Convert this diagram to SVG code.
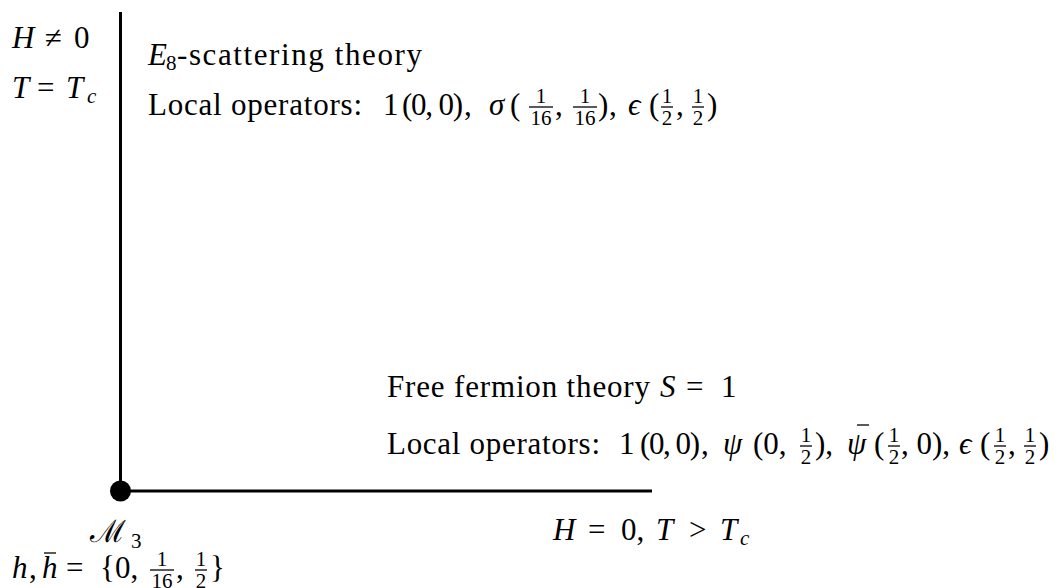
<svg xmlns="http://www.w3.org/2000/svg" width="1057" height="588" viewBox="0 0 1057 588">
<style>
.t{font-family:"Liberation Serif","Times New Roman",serif;font-size:31px;fill:#000}
.i{font-style:italic}
.s{font-size:21px}
.m{text-anchor:middle}
.fb{stroke:#000;stroke-width:1.3}
.ax{stroke:#000;stroke-width:3;fill:none}
</style>
<rect width="1057" height="588" fill="#fff"/>
<g id="connectors">
<line class="ax" x1="120.5" y1="12" x2="120.5" y2="491"/>
<line class="ax" x1="120.5" y1="491" x2="652" y2="491"/>
</g>
<g id="node-M3">
<circle cx="120.5" cy="491" r="10.5" fill="#000"/>
<text class="t" x="90" y="542" font-family="DejaVu Serif" font-size="33">ℳ</text>
<text class="t s" x="131" y="548">3</text>
<text class="t i" x="12" y="578">h</text>
<text class="t" x="29" y="578">,</text>
<text class="t i" x="42" y="578">h</text>
<line class="fb" x1="44" y1="553" x2="56" y2="553"/>
<text class="t" x="66" y="578">=</text>
<text class="t" x="100" y="578">{0,</text>
<text class="t s m" x="162" y="566">1</text>
<line class="fb" x1="150" y1="570" x2="174" y2="570"/>
<text class="t s m" x="162" y="588">16</text>
<text class="t" x="176" y="578">,</text>
<text class="t s m" x="201" y="566">1</text>
<line class="fb" x1="195" y1="570" x2="207" y2="570"/>
<text class="t s m" x="201" y="588">2</text>
<text class="t" x="210" y="578">}</text>
</g>
<g id="node-vertical-label">
<text class="t i" x="12" y="48">H</text>
<text class="t" x="45" y="48">≠</text>
<text class="t" x="74" y="48">0</text>
<text class="t i" x="12" y="98">T</text>
<text class="t" x="37" y="98">=</text>
<text class="t i" x="66" y="98">T</text>
<text class="t i s" x="87" y="103">c</text>
</g>
<g id="node-E8">
<text class="t i" x="148" y="65">E</text>
<text class="t s" x="166" y="70">8</text>
<text class="t" x="177" y="65" textLength="245" lengthAdjust="spacing">-scattering theory</text>
<text class="t" x="148" y="115" textLength="214" lengthAdjust="spacing">Local operators:</text>
<text class="t" x="383" y="115">1</text>
<text class="t" x="402" y="115" textLength="61" lengthAdjust="spacing">(0, 0)</text>
<text class="t" x="464" y="115">,</text>
<text class="t i" x="489" y="115">σ</text>
<text class="t" x="510" y="115">(</text>
<text class="t s m" x="541" y="103">1</text>
<line class="fb" x1="529" y1="107" x2="553" y2="107"/>
<text class="t s m" x="541" y="125">16</text>
<text class="t" x="555" y="115">,</text>
<text class="t s m" x="585" y="103">1</text>
<line class="fb" x1="573" y1="107" x2="597" y2="107"/>
<text class="t s m" x="585" y="125">16</text>
<text class="t" x="598" y="115">)</text>
<text class="t" x="609" y="115">,</text>
<text class="t i" x="628" y="115">ϵ</text>
<text class="t" x="649" y="115">(</text>
<text class="t s m" x="667" y="103">1</text>
<line class="fb" x1="661" y1="107" x2="673" y2="107"/>
<text class="t s m" x="667" y="125">2</text>
<text class="t" x="676" y="115">,</text>
<text class="t s m" x="698" y="103">1</text>
<line class="fb" x1="692" y1="107" x2="704" y2="107"/>
<text class="t s m" x="698" y="125">2</text>
<text class="t" x="707" y="115">)</text>
</g>
<g id="node-free-fermion">
<text class="t" x="387" y="397" textLength="263" lengthAdjust="spacing">Free fermion theory</text>
<text class="t i" x="660" y="397">S</text>
<text class="t" x="686" y="397">=</text>
<text class="t" x="721" y="397">1</text>
<text class="t" x="387" y="454" textLength="213" lengthAdjust="spacing">Local operators:</text>
<text class="t" x="619" y="454">1</text>
<text class="t" x="640" y="454" textLength="60" lengthAdjust="spacing">(0, 0)</text>
<text class="t" x="701" y="454">,</text>
<text class="t i" x="723" y="454">ψ</text>
<text class="t" x="753" y="454">(0,</text>
<text class="t s m" x="806" y="442">1</text>
<line class="fb" x1="800" y1="446" x2="812" y2="446"/>
<text class="t s m" x="806" y="464">2</text>
<text class="t" x="815" y="454">),</text>
<text class="t i" x="847" y="454">ψ</text>
<line class="fb" x1="857" y1="425" x2="869" y2="425"/>
<text class="t" x="874" y="454">(</text>
<text class="t s m" x="894" y="442">1</text>
<line class="fb" x1="888" y1="446" x2="900" y2="446"/>
<text class="t s m" x="894" y="464">2</text>
<text class="t" x="901" y="454">, 0),</text>
<text class="t i" x="959" y="454">ϵ</text>
<text class="t" x="980" y="454">(</text>
<text class="t s m" x="1000" y="442">1</text>
<line class="fb" x1="994" y1="446" x2="1006" y2="446"/>
<text class="t s m" x="1000" y="464">2</text>
<text class="t" x="1008" y="454">,</text>
<text class="t s m" x="1030" y="442">1</text>
<line class="fb" x1="1024" y1="446" x2="1036" y2="446"/>
<text class="t s m" x="1030" y="464">2</text>
<text class="t" x="1039" y="454">)</text>
</g>
<g id="node-H0">
<text class="t i" x="553" y="540">H</text>
<text class="t" x="588" y="540">=</text>
<text class="t" x="621" y="540">0,</text>
<text class="t i" x="656" y="540">T</text>
<text class="t" x="689" y="540">&gt;</text>
<text class="t i" x="720" y="540">T</text>
<text class="t i s" x="740" y="545">c</text>
</g>
</svg>
